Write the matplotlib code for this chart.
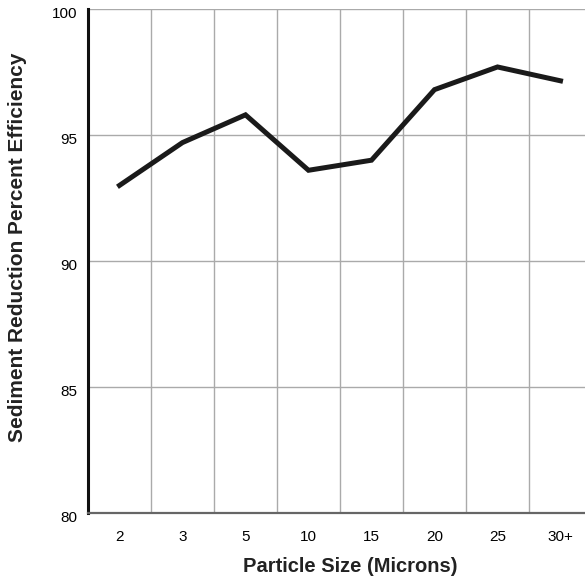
import matplotlib
matplotlib.use("Agg")
import matplotlib.pyplot as plt
import matplotlib.transforms as mtransforms

sizes = ["2", "3", "5", "10", "15", "20", "25", "30+"]
efficiency = [93.0, 94.7, 95.8, 93.6, 94.0, 96.8, 97.7, 97.15]
y_ticks = [80, 85, 90, 95, 100]

plt.rcParams['font.family'] = ['Liberation Sans', 'DejaVu Sans']

fig = plt.figure(figsize=(5.85, 5.77), dpi=100)
ax = fig.add_axes([88 / 585, 64 / 577, 504 / 585, 504 / 577])

x = range(len(sizes))
ax.plot(x, efficiency, color='#1a1a1a', lw=3.6, solid_joinstyle='miter', zorder=3)

ax.set_xlim(-0.5, len(sizes) - 0.5)
ax.set_ylim(80, 100)

# grid lines sit between categories
for b in range(1, len(sizes) + 1):
    ax.axvline(b - 0.5, color='#aaaaaa', lw=1.0, zorder=1)
for v in y_ticks[1:]:
    ax.axhline(v, color='#aaaaaa', lw=1.0, zorder=1)

ax.set_xticks(list(x))
ax.set_xticklabels(sizes, fontsize=11)
ax.set_yticks(y_ticks)
ax.set_yticklabels([str(v) for v in y_ticks], fontsize=11)
ax.tick_params(axis='both', length=0)
ax.tick_params(axis='x', pad=12)
ax.tick_params(axis='y', pad=8)

offset = mtransforms.ScaledTranslation(0, -4 / 100, fig.dpi_scale_trans)
for lbl in ax.get_yticklabels():
    lbl.set_transform(lbl.get_transform() + offset)

ax.spines['top'].set_visible(False)
ax.spines['right'].set_visible(False)
ax.spines['left'].set_color('#111111')
ax.spines['left'].set_linewidth(2.2)
ax.spines['bottom'].set_color('#666666')
ax.spines['bottom'].set_linewidth(1.6)

fig.text(350 / 585, 1 - 566 / 577, "Particle Size (Microns)", fontsize=14.5,
         fontweight='bold', ha='center', va='center', color='#222222')
fig.text(18 / 585, 1 - 247 / 577, "Sediment Reduction Percent Efficiency",
         fontsize=15, fontweight='bold', rotation=90, ha='center', va='center',
         color='#222222')

fig.savefig("out.png", dpi=100)
